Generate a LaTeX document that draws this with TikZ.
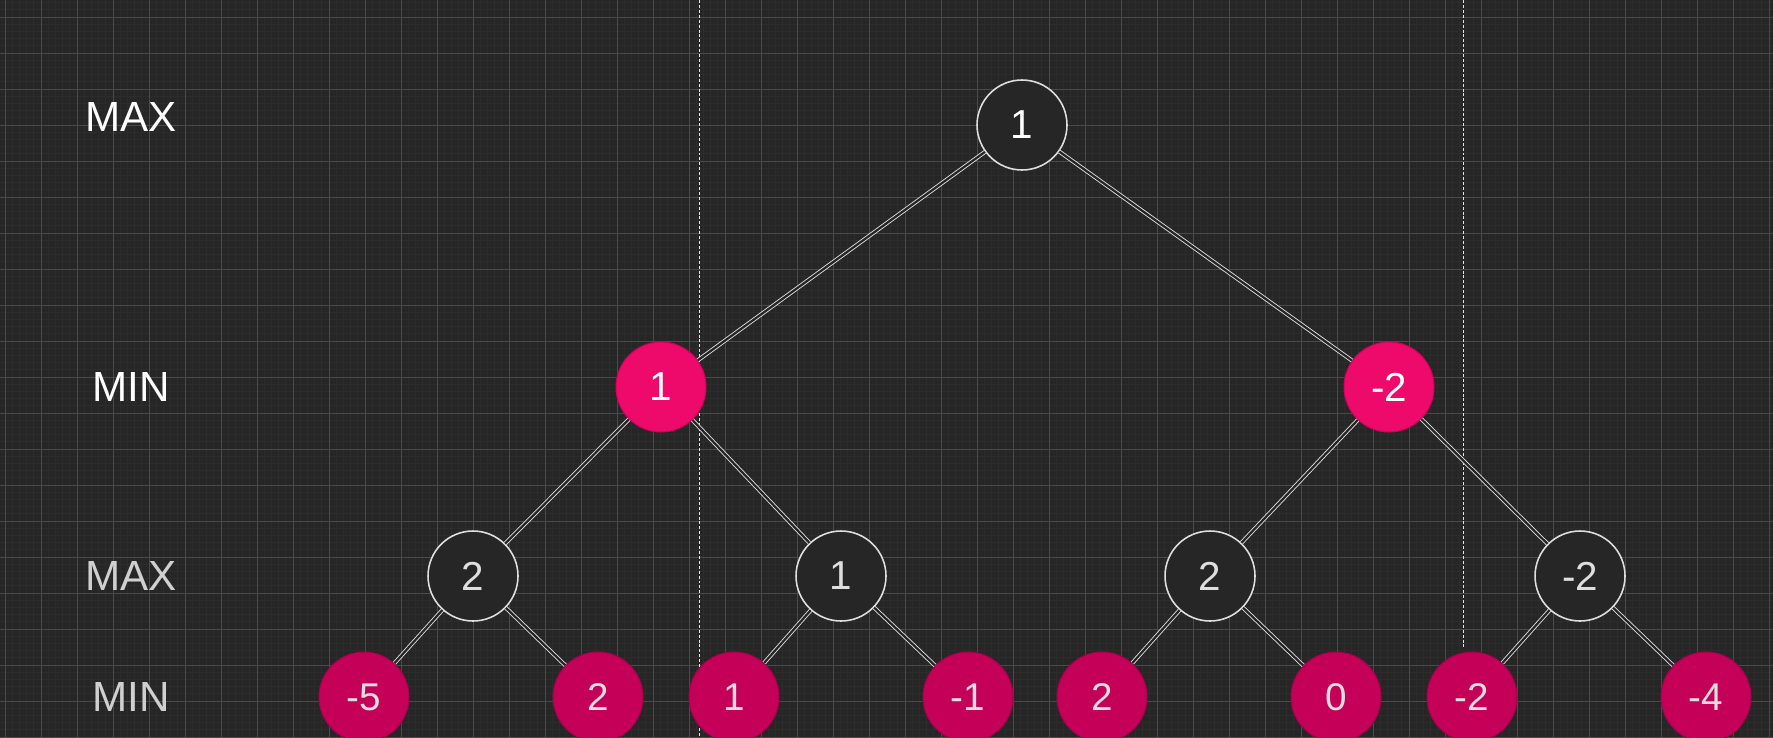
\documentclass[tikz,border=0pt]{standalone}
\usepackage{fontspec}
\setmainfont{Liberation Sans}

\definecolor{bgdark}{RGB}{38,38,38}
\definecolor{gridmajor}{RGB}{74,74,74}
\definecolor{gridminor}{RGB}{44,44,44}
\definecolor{minpink}{RGB}{238,10,106}
\definecolor{minpinkedge}{RGB}{214,0,92}
\definecolor{leafpink}{RGB}{196,0,88}
\definecolor{leafpinkedge}{RGB}{168,0,74}
\definecolor{softwhite}{RGB}{222,222,222}
\definecolor{dimwhite}{RGB}{208,208,208}

\begin{document}
\begin{tikzpicture}[
    x=0.02cm, y=-0.02cm,
    levellabel/.style={text=white, font=\fontsize{24}{28}\selectfont},
    dimlabel/.style={levellabel, text=dimwhite},
    maxnode/.style={circle, draw=softwhite, line width=0.9pt, fill=bgdark, minimum size=1.8cm, inner sep=0pt, text=white, font=\fontsize{23}{27}\selectfont},
    maxlow/.style={maxnode, text=softwhite},
    minnode/.style={circle, draw=minpinkedge, line width=0.6pt, fill=minpink, minimum size=1.8cm, inner sep=0pt, text=white, font=\fontsize{23}{27}\selectfont},
    leafnode/.style={circle, draw=leafpinkedge, line width=0.6pt, fill=leafpink, minimum size=1.8cm, inner sep=0pt, text=softwhite, font=\fontsize{22}{26}\selectfont},
    edge/.style={draw=softwhite, line width=0.5pt, double=bgdark, double distance=1.3pt},
    split/.style={draw=softwhite!80, line width=0.5pt, dash pattern=on 1.7pt off 1.1pt}
]
    % background and grid
    \useasboundingbox[fill=bgdark] (0,0) rectangle (1773,737);
    \foreach \x in {5,12.2,...,1773} \draw[gridminor, line width=0.4pt] (\x,0) -- (\x,737);
    \foreach \y in {2.6,9.8,...,737} \draw[gridminor, line width=0.4pt] (0,\y) -- (1773,\y);
    \foreach \x in {5,41,...,1773} \draw[gridmajor, line width=0.5pt] (\x,0) -- (\x,737);
    \foreach \y in {17,53,...,737} \draw[gridmajor, line width=0.5pt] (0,\y) -- (1773,\y);

    % dashed splits
    \coordinate (splitLtop) at (699,0);
    \coordinate (splitLbot) at (699,737);
    \coordinate (splitRtop) at (1463,0);
    \coordinate (splitRbot) at (1463,648);
    \draw[split] (splitLtop) -- (splitLbot);
    \draw[split] (splitRtop) -- (splitRbot);

    % level labels
    \node[levellabel] (lvlmax) at (131,117) {MAX};
    \node[levellabel] (lvlmin) at (131,387) {MIN};
    \node[dimlabel] (lvlmaxb) at (131,576) {MAX};
    \node[dimlabel] (lvlminb) at (131,697) {MIN};

    % tree
    \node[maxnode] (root) at (1022,125) {1};
    \node[minnode] (minl) at (661,387) {1};
    \node[minnode] (minr) at (1389,387) {-2};
    \node[maxlow] (maxa) at (473,576) {2};
    \node[maxlow] (maxb) at (841,576) {1};
    \node[maxlow] (maxc) at (1210,576) {2};
    \node[maxlow] (maxd) at (1580,576) {-2};
    \node[leafnode] (leafa) at (364,697) {-5};
    \node[leafnode] (leafb) at (598,697) {2};
    \node[leafnode] (leafc) at (734,697) {1};
    \node[leafnode] (leafd) at (968,697) {-1};
    \node[leafnode] (leafe) at (1102,697) {2};
    \node[leafnode] (leaff) at (1336,697) {0};
    \node[leafnode] (leafg) at (1472,697) {-2};
    \node[leafnode] (leafh) at (1706,697) {-4};

    \draw[edge] (root) -- (minl);
    \draw[edge] (root) -- (minr);
    \draw[edge] (minl) -- (maxa);
    \draw[edge] (minl) -- (maxb);
    \draw[edge] (minr) -- (maxc);
    \draw[edge] (minr) -- (maxd);
    \draw[edge] (maxa) -- (leafa);
    \draw[edge] (maxa) -- (leafb);
    \draw[edge] (maxb) -- (leafc);
    \draw[edge] (maxb) -- (leafd);
    \draw[edge] (maxc) -- (leafe);
    \draw[edge] (maxc) -- (leaff);
    \draw[edge] (maxd) -- (leafg);
    \draw[edge] (maxd) -- (leafh);
\end{tikzpicture}
\end{document}
